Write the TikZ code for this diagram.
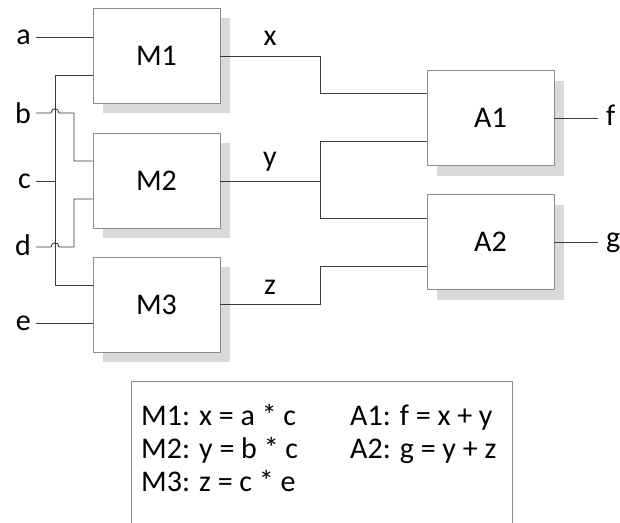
\documentclass[tikz,border=0pt]{standalone}
\usepackage{fontspec}
\setmainfont{Carlito}
\definecolor{boxline}{HTML}{8C8C8C}
\definecolor{wire}{HTML}{3A3A3A}
\definecolor{shade}{HTML}{D9D9D9}
\begin{document}
\begin{tikzpicture}[x=1pt,y=-1pt,
  blk/.style={draw=boxline, line width=0.8pt, fill=white, minimum width=127pt, minimum height=95pt, inner sep=0pt, font=\fontsize{30}{34}\selectfont},
  shd/.style={fill=shade, draw=none, minimum width=127pt, minimum height=95pt, inner sep=0pt},
  lbl/.style={inner sep=0pt, font=\fontsize{30}{34}\selectfont, text=black},
  wr/.style={draw=wire, line width=0.9pt},
  leg/.style={inner sep=0pt, anchor=base west, font=\fontsize{30}{34}\selectfont}]
\useasboundingbox (0,0) rectangle (620,522);
% shadows
\foreach \p/\q in {156.5/55.5, 156.5/180.5, 156.5/304.5, 490.5/118, 490.5/242}
  \node[shd] at (\p+10,\q+10) {};
% blocks
\node[blk] (M1) at (156.5,55.5) {M1};
\node[blk] (M2) at (156.5,180.5) {M2};
\node[blk] (M3) at (156.5,304.5) {M3};
\node[blk] (A1) at (490.5,118) {A1};
\node[blk] (A2) at (490.5,242) {A2};
% input labels
\node[lbl, anchor=east] (a) at (31,37) {a};
\node[lbl, anchor=east] (b) at (31,113) {b};
\node[lbl, anchor=east] (c) at (31,181) {c};
\node[lbl, anchor=east] (d) at (31,245) {d};
\node[lbl, anchor=east] (e) at (31,323) {e};
% output labels
\node[lbl, anchor=west] (f) at (606,115) {f};
\node[lbl, anchor=west] (g) at (606,243) {g};
% signal labels
\node[lbl] (x) at (270,38) {x};
\node[lbl] (y) at (270,162) {y};
\node[lbl] (z) at (270,287) {z};
% junction coordinates
\coordinate (bus1) at (55,75);
\coordinate (bus2) at (55,285);
\coordinate (cj) at (55,181);
\coordinate (ojA) at (320,56);
\coordinate (ojB) at (320,181);
\coordinate (ojC) at (320,304);
% input wires
\draw[wr] (36,37) -- (M1.west |- 0,37);
\draw[wr] (bus1) -- (M1.west |- bus1);
\draw[wr] (bus1) -- (bus2) -- (M3.west |- bus2);
\draw[wr] (36,181) -- (cj);
\draw[wr] (36,323) -- (M3.west |- 0,323);
\draw[wr] (36,113) -- (51,113) .. controls (51,107.5) and (59,107.5) .. (59,113) -- (74,113) -- (74,161) -- (M2.west |- 0,161);
\draw[wr] (36,247) -- (51,247) .. controls (51,241.5) and (59,241.5) .. (59,247) -- (74,247) -- (74,199) -- (M2.west |- 0,199);
% output wires
\draw[wr] (M1.east |- ojA) -- (ojA) -- (320,93) -- (A1.west |- 0,93);
\draw[wr] (M2.east |- ojB) -- (ojB);
\draw[wr] (320,141) -- (320,218);
\draw[wr] (320,141) -- (A1.west |- 0,141);
\draw[wr] (320,218) -- (A2.west |- 0,218);
\draw[wr] (M3.east |- ojC) -- (ojC) -- (320,266) -- (A2.west |- 0,266);
\draw[wr] (A1.east) -- (598,118);
\draw[wr] (A2.east) -- (598,242);
% legend
\draw[draw=boxline, line width=0.8pt] (131.5,523) -- (131.5,381) -- (512,381) -- (512,523);
\node[leg] (l1) at (141,425) {M1: x = a * c};
\node[leg] (l2) at (141,458) {M2: y = b * c};
\node[leg] (l3) at (141,491) {M3: z = c * e};
\node[leg] (l4) at (350,425) {A1: f = x + y};
\node[leg] (l5) at (350,458) {A2: g = y + z};
\end{tikzpicture}
\end{document}
